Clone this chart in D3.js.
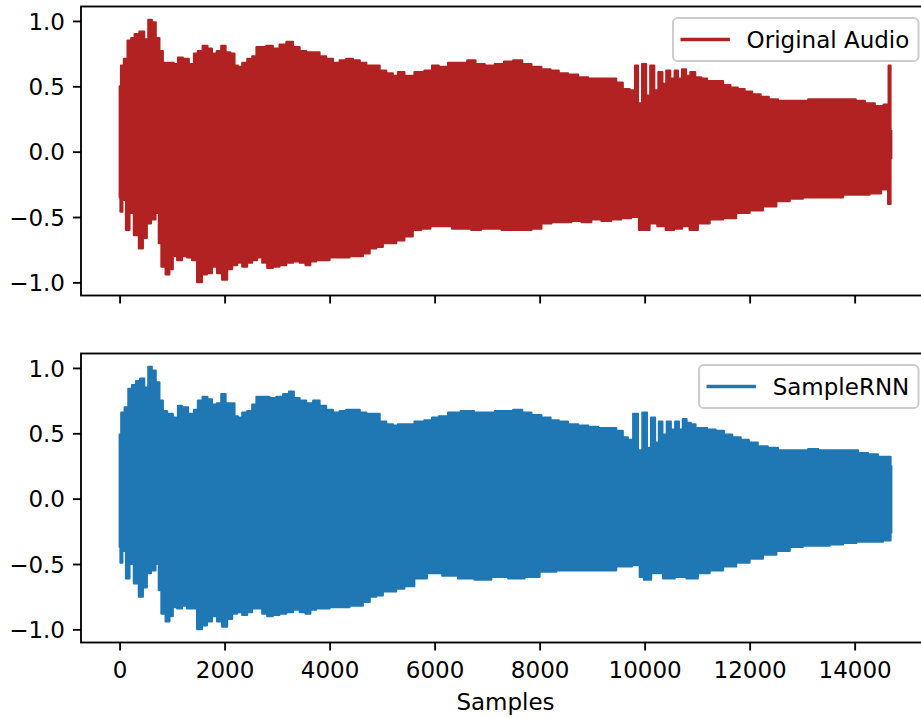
<!DOCTYPE html>
<html>
<head>
<meta charset="utf-8">
<script src="https://cdn.jsdelivr.net/npm/d3@7"></script>
<style>
  html, body { margin: 0; padding: 0; background: #ffffff; }
  svg { display: block; }
  text { font-family: "DejaVu Sans", sans-serif; fill: #000; }
</style>
</head>
<body>
<svg id="chart" width="921" height="718"></svg>
<script>
// Waveform peak envelopes: [sample index, amplitude]
const sampleCount = 14700;

const originalUpper = [
  [0,0.50],[50,0.66],[110,0.71],[190,0.85],[250,0.87],[320,0.90],[430,0.92],[510,0.86],[580,1.01],[650,0.99],
  [730,0.87],[790,0.77],[860,0.68],[980,0.68],[1080,0.67],[1140,0.72],[1270,0.71],[1370,0.67],[1460,0.75],[1520,0.77],
  [1640,0.81],[1710,0.79],[1810,0.75],[1890,0.77],[1980,0.81],[2060,0.76],[2160,0.75],[2220,0.66],[2290,0.65],[2380,0.68],
  [2480,0.71],[2570,0.73],[2640,0.80],[2730,0.80],[2860,0.81],[2980,0.79],[3110,0.82],[3240,0.84],[3370,0.80],[3490,0.77],
  [3620,0.76],[3750,0.76],[3870,0.73],[4000,0.71],[4130,0.68],[4250,0.70],[4380,0.71],[4510,0.70],[4640,0.68],[4760,0.66],
  [4890,0.66],[5020,0.62],[5140,0.60],[5270,0.58],[5330,0.61],[5520,0.58],[5710,0.61],[5900,0.62],[6000,0.66],[6160,0.65],
  [6350,0.68],[6540,0.68],[6700,0.70],[6860,0.67],[7050,0.66],[7240,0.67],[7400,0.69],[7590,0.70],[7750,0.67],[7940,0.65],
  [8130,0.63],[8290,0.62],[8440,0.60],[8640,0.59],[8830,0.57],[9020,0.56],[9210,0.56],[9400,0.56],[9520,0.53],[9650,0.48],
  [9780,0.47],[9850,0.66],[9900,0.37],[10000,0.67],[10060,0.43],[10150,0.66],[10220,0.47],[10300,0.61],[10380,0.52],[10440,0.62],
  [10540,0.56],[10600,0.62],[10670,0.56],[10750,0.63],[10830,0.58],[10910,0.61],[11020,0.57],[11140,0.56],[11240,0.54],[11330,0.54],
  [11430,0.54],[11560,0.51],[11710,0.49],[11840,0.48],[11970,0.46],[12130,0.44],[12290,0.42],[12440,0.40],[12640,0.39],[12830,0.39],
  [13020,0.39],[13210,0.40],[13400,0.40],[13590,0.40],[13780,0.40],[13940,0.40],[14100,0.39],[14290,0.37],[14480,0.35],[14620,0.36],
  [14670,0.66],[14700,0.16]
];

const originalLower = [
  [0,-0.35],[30,-0.46],[80,-0.37],[160,-0.60],[220,-0.47],[320,-0.64],[410,-0.74],[480,-0.66],[560,-0.55],[640,-0.52],
  [730,-0.47],[760,-0.70],[830,-0.88],[920,-0.94],[980,-0.90],[1050,-0.80],[1140,-0.83],[1240,-0.80],[1330,-0.81],[1430,-0.83],
  [1520,-1.00],[1620,-0.94],[1710,-0.93],[1810,-0.88],[1900,-0.93],[2000,-0.98],[2100,-0.90],[2190,-0.87],[2290,-0.85],[2380,-0.88],
  [2480,-0.85],[2570,-0.83],[2670,-0.81],[2760,-0.85],[2860,-0.89],[2980,-0.88],[3110,-0.87],[3240,-0.85],[3370,-0.84],[3490,-0.85],
  [3590,-0.87],[3680,-0.84],[3810,-0.83],[3940,-0.83],[4060,-0.81],[4190,-0.81],[4320,-0.81],[4440,-0.80],[4570,-0.80],[4700,-0.78],
  [4830,-0.74],[4950,-0.73],[5080,-0.70],[5210,-0.70],[5330,-0.68],[5520,-0.65],[5650,-0.60],[5840,-0.59],[6000,-0.57],[6220,-0.57],
  [6440,-0.59],[6600,-0.59],[6790,-0.60],[6980,-0.59],[7180,-0.59],[7370,-0.60],[7560,-0.60],[7750,-0.60],[7940,-0.59],[8130,-0.55],
  [8320,-0.54],[8510,-0.54],[8700,-0.53],[8890,-0.54],[9080,-0.52],[9270,-0.53],[9460,-0.52],[9650,-0.51],[9840,-0.50],[9940,-0.60],
  [10030,-0.60],[10160,-0.55],[10320,-0.57],[10480,-0.60],[10640,-0.59],[10790,-0.57],[10920,-0.60],[11110,-0.55],[11370,-0.52],[11620,-0.51],
  [11870,-0.47],[12130,-0.45],[12380,-0.42],[12640,-0.38],[12890,-0.36],[13140,-0.35],[13400,-0.35],[13650,-0.35],[13910,-0.33],[14160,-0.33],
  [14410,-0.32],[14600,-0.29],[14670,-0.40],[14700,-0.05]
];

const generatedUpper = [
  [0,0.49],[60,0.66],[130,0.70],[200,0.84],[270,0.87],[350,0.90],[430,0.92],[510,0.85],[580,1.01],[650,0.98],
  [730,0.89],[790,0.75],[860,0.67],[950,0.65],[1080,0.62],[1140,0.71],[1240,0.70],[1370,0.65],[1460,0.68],[1520,0.75],
  [1640,0.78],[1710,0.76],[1810,0.72],[1890,0.73],[1980,0.80],[2060,0.73],[2160,0.73],[2220,0.63],[2290,0.62],[2380,0.66],
  [2480,0.67],[2570,0.72],[2640,0.78],[2790,0.78],[2920,0.77],[3050,0.78],[3180,0.80],[3270,0.82],[3370,0.77],[3490,0.75],
  [3620,0.73],[3750,0.75],[3870,0.71],[4000,0.68],[4130,0.66],[4250,0.67],[4380,0.68],[4510,0.68],[4640,0.66],[4760,0.65],
  [4890,0.65],[5020,0.59],[5140,0.57],[5270,0.56],[5330,0.57],[5520,0.57],[5710,0.59],[5900,0.60],[6000,0.62],[6160,0.63],
  [6350,0.66],[6640,0.67],[6860,0.66],[7050,0.66],[7240,0.67],[7400,0.67],[7590,0.68],[7750,0.66],[7940,0.64],[8130,0.62],
  [8290,0.60],[8440,0.59],[8640,0.57],[8830,0.56],[9020,0.55],[9210,0.54],[9400,0.54],[9520,0.52],[9650,0.47],[9710,0.45],
  [9850,0.65],[9900,0.37],[10010,0.66],[10080,0.39],[10160,0.62],[10240,0.43],[10300,0.59],[10380,0.49],[10460,0.59],[10540,0.53],
  [10620,0.59],[10690,0.53],[10760,0.61],[10840,0.58],[10920,0.57],[11020,0.54],[11110,0.54],[11270,0.53],[11430,0.52],[11590,0.49],
  [11750,0.47],[11910,0.45],[12060,0.43],[12250,0.40],[12440,0.39],[12640,0.37],[12830,0.37],[13020,0.37],[13210,0.38],[13400,0.37],
  [13590,0.37],[13780,0.37],[13970,0.37],[14160,0.35],[14350,0.34],[14540,0.32],[14670,0.32],[14700,0.25]
];

const generatedLower = [
  [0,-0.37],[30,-0.49],[80,-0.40],[160,-0.61],[220,-0.50],[320,-0.65],[410,-0.75],[480,-0.68],[560,-0.57],[640,-0.55],
  [730,-0.50],[760,-0.70],[830,-0.88],[920,-0.94],[980,-0.90],[1050,-0.83],[1140,-0.84],[1240,-0.82],[1330,-0.84],[1430,-0.84],
  [1520,-1.00],[1620,-0.97],[1710,-0.94],[1810,-0.90],[1900,-0.94],[2000,-0.98],[2100,-0.92],[2190,-0.88],[2290,-0.87],[2380,-0.89],
  [2480,-0.87],[2570,-0.84],[2670,-0.84],[2760,-0.88],[2860,-0.90],[2980,-0.89],[3110,-0.88],[3240,-0.87],[3370,-0.85],[3490,-0.87],
  [3590,-0.88],[3680,-0.85],[3810,-0.84],[3940,-0.84],[4060,-0.83],[4190,-0.83],[4320,-0.83],[4440,-0.82],[4570,-0.82],[4700,-0.79],
  [4830,-0.75],[4950,-0.74],[5080,-0.71],[5210,-0.71],[5330,-0.69],[5520,-0.67],[5710,-0.61],[6000,-0.57],[6290,-0.59],[6600,-0.61],
  [6920,-0.62],[7240,-0.60],[7560,-0.61],[7870,-0.60],[8130,-0.56],[8510,-0.55],[8890,-0.55],[9270,-0.55],[9650,-0.52],[9870,-0.51],
  [9940,-0.60],[10030,-0.62],[10220,-0.57],[10480,-0.61],[10670,-0.60],[10920,-0.61],[11110,-0.57],[11370,-0.55],[11620,-0.52],[11870,-0.49],
  [12130,-0.46],[12380,-0.43],[12640,-0.40],[12890,-0.37],[13140,-0.36],[13400,-0.36],[13650,-0.35],[13910,-0.34],[14160,-0.33],[14410,-0.33],
  [14670,-0.32],[14700,-0.26]
];

const seriesNames = ["Original Audio", "SampleRNN"];
const seriesColors = ["#b22222", "#1f77b4"];
const xTicks = [0, 2000, 4000, 6000, 8000, 10000, 12000, 14000];
const yTicks = [-1.0, -0.5, 0.0, 0.5, 1.0];
const xLabel = "Samples";

// ---- layout (pixels) ----
const fontSize = 23;
const tickLen = 8, tickPad = 8, spineW = 1.84;
const axLeft = 81, axRight = 930;
const panels = [
  { top: 6.5, bottom: 295.5, upper: originalUpper, lower: originalLower, showXLabels: false },
  { top: 353.5, bottom: 642.5, upper: generatedUpper, lower: generatedLower, showXLabels: true }
];

const svg = d3.select("#chart");

// Shared x scale with 5% margins on the sample range
const xPad = sampleCount * 0.05;
const x = d3.scaleLinear().domain([-xPad, sampleCount + xPad]).range([axLeft, axRight]);

panels.forEach((p, i) => {
  const vals = p.upper.concat(p.lower).map(d => d[1]);
  const [lo, hi] = d3.extent(vals);
  const yPad = (hi - lo) * 0.05;
  const y = d3.scaleLinear().domain([lo - yPad, hi + yPad]).range([p.bottom, p.top]);

  const g = svg.append("g");

  const clipId = "clip" + i;
  svg.append("defs").append("clipPath").attr("id", clipId)
    .append("rect").attr("x", axLeft).attr("y", p.top)
    .attr("width", axRight - axLeft).attr("height", p.bottom - p.top);

  // Waveform envelope: peak edges drawn as steps between cycle peaks
  const edge = d3.line().x(d => x(d[0])).y(d => y(d[1])).curve(d3.curveStep);
  const up = edge(p.upper);
  const down = edge(p.lower.slice().reverse());
  g.append("path")
    .attr("clip-path", `url(#${clipId})`)
    .attr("d", up + "L" + down.slice(1) + "Z")
    .attr("fill", seriesColors[i])
    .attr("stroke", seriesColors[i])
    .attr("stroke-width", 2)
    .attr("stroke-linejoin", "round");

  // Axes
  const xAxis = d3.axisBottom(x).tickValues(xTicks).tickSize(tickLen).tickPadding(tickPad)
    .tickFormat(p.showXLabels ? d3.format("d") : () => "");
  const gx = g.append("g").attr("transform", `translate(0,${p.bottom})`).call(xAxis);
  gx.select(".domain").remove();
  gx.selectAll(".tick line").attr("stroke", "#000").attr("stroke-width", spineW);
  gx.selectAll(".tick text").attr("font-size", fontSize).attr("font-family", "DejaVu Sans")
    .attr("dy", "0.83em").attr("fill", "#000");

  const yAxis = d3.axisLeft(y).tickValues(yTicks).tickSize(tickLen).tickPadding(tickPad)
    .tickFormat(d3.format(".1f"));
  const gy = g.append("g").attr("transform", `translate(${axLeft},0)`).call(yAxis);
  gy.select(".domain").remove();
  gy.selectAll(".tick line").attr("stroke", "#000").attr("stroke-width", spineW);
  gy.selectAll(".tick text").attr("font-size", fontSize).attr("font-family", "DejaVu Sans")
    .attr("dy", "0.36em").attr("fill", "#000");

  // Spines
  g.append("rect")
    .attr("x", axLeft).attr("y", p.top)
    .attr("width", axRight - axLeft).attr("height", p.bottom - p.top)
    .attr("fill", "none").attr("stroke", "#000").attr("stroke-width", spineW);

  // Legend in the upper right corner
  const pad = 9.2, handleLen = 46, handleGap = 18.4, boxH = 43;
  const boxRight = axRight - 11.5, boxTop = p.top + 11.5;
  const lg = g.append("g");
  const frame = lg.append("rect");
  const label = lg.append("text")
    .attr("font-size", fontSize)
    .attr("y", boxTop + boxH / 2)
    .attr("dy", "0.36em")
    .attr("text-anchor", "end")
    .attr("x", boxRight - pad)
    .text(seriesNames[i]);
  const tw = label.node().getComputedTextLength();
  const textStart = boxRight - pad - tw;
  const hEnd = textStart - handleGap, hStart = hEnd - handleLen;
  const boxLeft = hStart - pad;
  frame.attr("x", boxLeft).attr("y", boxTop)
    .attr("width", boxRight - boxLeft).attr("height", boxH)
    .attr("rx", 4.6).attr("ry", 4.6)
    .attr("fill", "#ffffff").attr("fill-opacity", 0.8)
    .attr("stroke", "#cccccc").attr("stroke-width", 2);
  lg.append("line")
    .attr("x1", hStart).attr("x2", hEnd)
    .attr("y1", boxTop + boxH / 2).attr("y2", boxTop + boxH / 2)
    .attr("stroke", seriesColors[i]).attr("stroke-width", 3.45)
    .attr("stroke-linecap", "square");
});

// x-axis title
svg.append("text")
  .attr("x", (axLeft + axRight) / 2)
  .attr("y", 710)
  .attr("text-anchor", "middle")
  .attr("font-size", fontSize)
  .text(xLabel);
</script>
</body>
</html>
